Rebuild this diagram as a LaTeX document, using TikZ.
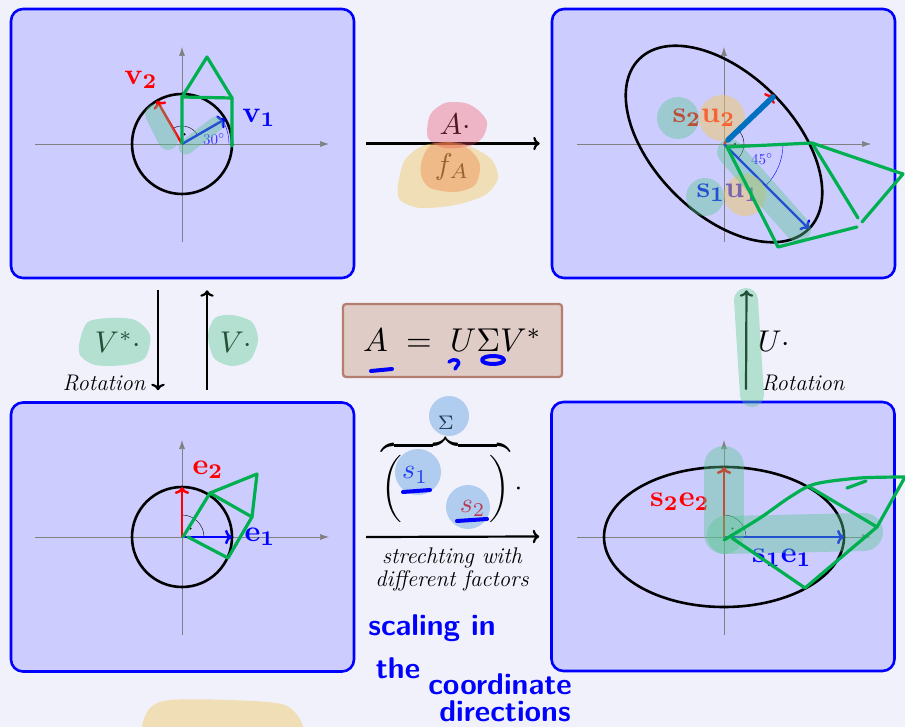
\documentclass[tikz,border=0pt]{standalone}
\usepackage{amsmath}
\usepackage{graphicx}
\usetikzlibrary{arrows.meta}

\definecolor{slidebg}{RGB}{241,241,252}
\definecolor{panelfill}{RGB}{204,204,255}
\definecolor{penGreen}{RGB}{0,176,80}
\definecolor{penBlue}{RGB}{0,0,255}
\definecolor{strokeBlue}{RGB}{0,112,192}
\definecolor{hlTeal}{RGB}{87,200,142}
\definecolor{hlPink}{RGB}{235,70,100}
\definecolor{hlYellow}{RGB}{240,200,100}
\definecolor{hlOrange}{RGB}{240,120,50}
\definecolor{hlBlue}{RGB}{80,150,220}
\definecolor{boxfill}{RGB}{224,204,198}
\definecolor{boxdraw}{RGB}{180,125,110}

\begin{document}
\begin{tikzpicture}[x=1pt, y=-1pt, >=To, every node/.style={inner sep=0pt},
    panel/.style={draw=blue, line width=2.6pt, fill=panelfill, rounded corners=12pt, minimum width=343pt, minimum height=269pt},
    axis/.style={gray, line width=0.7pt, -{Latex[length=9pt,width=6pt]}},
    vec/.style={line width=2.4pt, ->},
    conn/.style={line width=2.2pt, ->},
    unitc/.style={line width=2.6pt},
    pen/.style={penGreen, line width=3.2pt, line cap=round, line join=round},
    hand/.style={penBlue, line width=4pt, line cap=round, line join=round},
    hl/.style={line cap=round, opacity=.4},
    mlbl/.style={scale=3},
    rot/.style={font=\fontsize{22.6}{23}\selectfont\itshape},
    deg/.style={scale=1.5},
    handw/.style={text=penBlue, font=\fontsize{30}{30}\selectfont\sffamily\bfseries},
    formula/.style={draw=boxdraw, fill=boxfill, line width=2.2pt, rounded corners=3pt, minimum width=219pt, minimum height=73pt}]
\clip (0,0) rectangle (905,727);
\fill[slidebg] (0,0) rectangle (905,727);

% the four panels
\node[panel] (tl) at (182.5,143.5) {};
\node[panel] (tr) at (723.5,143.5) {};
\node[panel] (bl) at (182.5,537) {};
\node[panel] (br) at (723,536.5) {};

% top left: unit circle and v1, v2
\begin{scope}[shift={(182,144)}, yscale=-1]
  \draw[axis] (-147,0) -- (147,0);
  \draw[axis] (0,-98) -- (0,97);
  \draw[unitc] (0,0) circle (50);
  \draw[thin] (30:18) arc (30:120:18);
  \fill (75:10) circle (1.2);
  \draw[blue, thin] (47,0) arc (0:30:47);
  \draw[vec, blue] (0,0) -- (30:50);
  \draw[vec, red] (0,0) -- (120:50);
\end{scope}

% top right: ellipse and s1u1, s2u2
\begin{scope}[shift={(724,144)}, yscale=-1]
  \draw[axis] (-147,0) -- (147,0);
  \draw[axis] (0,-98) -- (0,97);
  \draw[unitc, rotate=45] (0,0) ellipse (120 and 70);
  \draw[thin] (-45:20) arc (-45:45:20);
  \fill (0:11) circle (1.2);
  \draw[blue, thin] (59,0) arc (0:-45:59);
  \draw[vec, blue] (0,0) -- (-45:120);
  \draw[vec, red] (0,0) -- (45:70);
\end{scope}

% bottom left: unit circle and e1, e2
\begin{scope}[shift={(182,537)}, yscale=-1]
  \draw[axis] (-147,0) -- (147,0);
  \draw[axis] (0,-98) -- (0,97);
  \draw[unitc] (0,0) circle (50);
  \draw[thin] (22,0) arc (0:90:22);
  \fill (45:12) circle (1.2);
  \draw[vec, blue] (0,0) -- (50,0);
  \draw[vec, red] (0,0) -- (0,50);
\end{scope}

% bottom right: ellipse and s1e1, s2e2
\begin{scope}[shift={(724,537)}, yscale=-1]
  \draw[axis] (-147,0) -- (147,0);
  \draw[axis] (0,-98) -- (0,97);
  \draw[unitc] (0,0) ellipse (120 and 70);
  \draw[thin] (22,0) arc (0:90:22);
  \fill (45:12) circle (1.2);
  \draw[vec, blue] (0,0) -- (120,0);
  \draw[vec, red] (0,0) -- (0,70);
\end{scope}

% vector labels
\node[mlbl, text=red] (v2) at (141,80) {$\mathbf{v_2}$};
\node[mlbl, text=blue] (v1) at (259,118) {$\mathbf{v_1}$};
\node[deg, text=blue!80] (ang30) at (214,139) {$30^\circ$};
\node[mlbl, text=red] (su2) at (704,118) {$\mathbf{s_2u_2}$};
\node[mlbl, text=blue] (su1) at (728,193) {$\mathbf{s_1u_1}$};
\node[deg, text=blue!80] (ang45) at (762,159) {$45^\circ$};
\node[mlbl, text=red] (e2) at (208,470) {$\mathbf{e_2}$};
\node[mlbl, text=blue] (e1) at (260,537) {$\mathbf{e_1}$};
\node[mlbl, text=red] (se2) at (680,502) {$\mathbf{s_2e_2}$};
\node[mlbl, text=blue] (se1) at (782,558) {$\mathbf{s_1e_1}$};

% connecting arrows
\draw[conn] ([xshift=10.7pt]tl.east) -- ([xshift=-11pt]tr.west);
\draw[conn] ([xshift=-24.5pt,yshift=-11pt]tl.south) -- ([xshift=-24.5pt,yshift=11pt]bl.north);
\draw[conn] ([xshift=24.5pt,yshift=11pt]bl.north) -- ([xshift=24.5pt,yshift=-11pt]tl.south);
\draw[conn] ([xshift=23pt,yshift=11pt]br.north) -- ([xshift=23pt,yshift=-11pt]tr.south);
\draw[conn] ([xshift=10.7pt]bl.east) -- ([xshift=-11pt]br.west);

\node[mlbl] (Adot) at (455,124) {$A\cdot$};
\node[mlbl] (fA) at (452,167) {$f_A$};
\node[mlbl] (Vstar) at (118,342) {$V^*\cdot$};
\node[mlbl] (Vdot) at (236,342) {$V\cdot$};
\node[mlbl] (Udot) at (774,341) {$U\cdot$};
\node[rot] (rotL) at (104,383) {Rotation};
\node[rot] (rotR) at (803,383) {Rotation};
\node[formula] (svd) at (452.5,340.5) {\scalebox{3.3}{$A\;=\;U\Sigma V^*$}};
\node[scale=2.8] (sigma) at (452,468) {$\overbrace{\begin{pmatrix}\color{blue}s_1 & \hspace{1.2em} \\ & \color{red}s_2\end{pmatrix}}^{\Sigma}\cdot$};
\node[rot, align=center] (stretch) at (452,569) {strechting with\\different factors};

% highlighter marks
\draw[hl, hlTeal, line width=20pt] (155,114) -- (168,140);
\draw[hl, hlTeal, line width=15pt] (186,147) -- (216,124);
\fill[hlTeal, opacity=.4] (678,118) circle (21);
\fill[hlYellow, opacity=.5] (722,118) circle (23);
\fill[hlTeal, opacity=.4] (705,197) circle (19);
\fill[hlYellow, opacity=.5] (745,195) circle (21);
\draw[hl, hlTeal, line width=26pt] (730,152) -- (798,229);
\draw[strokeBlue, line width=5.5pt, line cap=round] (728,140) -- (773,97);
\draw[hl, hlTeal, line width=40pt] (724,466) -- (724,534);
\draw[hl, hlTeal, line width=38pt] (726,535) -- (864,532);
\draw[hl, hlTeal, line width=24pt] (746,300) -- (752,395);
\fill[hlTeal, opacity=.4] plot[smooth cycle] coordinates {(80,340) (88,322) (110,318) (135,320) (150,335) (145,358) (125,365) (95,365) (80,355)};
\fill[hlTeal, opacity=.4] plot[smooth cycle] coordinates {(208,335) (215,318) (232,315) (252,322) (258,340) (250,360) (232,366) (214,358)};
\fill[hlYellow, opacity=.45] plot[smooth cycle] coordinates {(398,185) (405,160) (425,145) (460,143) (490,158) (498,178) (485,195) (455,205) (420,208) (400,200)};
\fill[hlPink, opacity=.35] plot[smooth cycle] coordinates {(430,115) (445,103) (465,103) (478,110) (487,122) (483,137) (470,146) (445,148) (428,138)};
\fill[hlOrange, opacity=.35] plot[smooth cycle] coordinates {(422,160) (430,146) (450,142) (470,150) (480,165) (475,185) (455,192) (430,188) (421,175)};
\fill[hlBlue, opacity=.4] (449,416) circle (20);
\fill[hlBlue, opacity=.4] (418,472) circle (23);
\fill[hlBlue, opacity=.4] (468,507) circle (22);
\fill[hlYellow, opacity=.45] plot[smooth cycle] coordinates {(142,727) (150,708) (170,700) (230,700) (285,705) (303,727) (290,740) (150,740)};

% green pen: the house and its images
\draw[pen] (182,143) -- (182,97) -- (207,57) -- (232,98) -- (232,146);
\draw[pen] (182,97) -- (232,98);
\draw[pen] (727,147) -- (812,143) -- (903,174) -- (862,222);
\draw[pen] (857,227) -- (778,247) -- (727,147);
\draw[pen] (812,143) -- (858,218);
\draw[pen] (183,537) -- (210,493) -- (257,474) -- (252,517) -- (228,558) -- (188,537);
\draw[pen] (210,493) -- (252,517);
\draw[pen] plot[smooth] coordinates {(724,540) (760,518) (790,497) (815,484) (860,478) (905,477)};
\draw[pen] (905,477) -- (877,527) -- (805,588) -- (732,538);
\draw[pen] (808,486) -- (877,527);
\draw[pen] (847,488) -- (866,481);

% blue pen
\draw[hand] (371,371) -- (392,369);
\draw[hand, line width=3.5pt] (449,362) .. controls (455,357) and (462,361) .. (457,366) -- (455,369);
\draw[hand] (493,360) ellipse (11 and 4);
\draw[hand] (403,492) -- (430,490);
\draw[hand] (457,521) -- (487,519);
\node[handw] (hw1) at (432,628) {scaling in};
\node[handw] (hw2) at (398,668) {the};
\node[handw] (hw3) at (500,684) {coordinate};
\node[handw] (hw4) at (505,711) {directions};
\end{tikzpicture}
\end{document}
